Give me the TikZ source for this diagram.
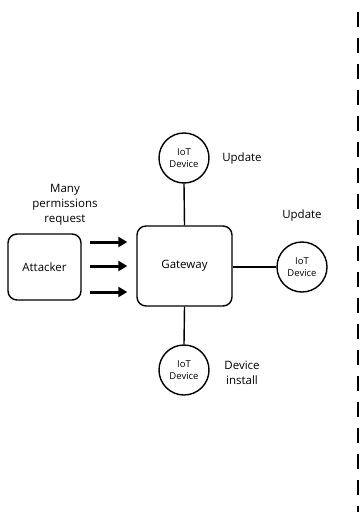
\documentclass[tikz,border=0pt]{standalone}
\usepackage{fontspec}
\setmainfont{Open Sans}
\usetikzlibrary{arrows.meta, positioning}

\begin{document}
\begin{tikzpicture}[x=1pt, y=-1pt,
		box/.style={shape=rectangle, draw, line width=1.4pt, rounded corners=9pt, align=center, font=\fontsize{11.5}{13}\selectfont},
		device/.style={shape=circle, draw, line width=1.4pt, minimum size=50pt, inner sep=0pt, align=center, font=\fontsize{9.5}{11.5}\selectfont},
		link/.style={line width=1.4pt},
		attack/.style={line width=3pt, -{Triangle[length=9pt, width=10pt]}},
		note/.style={align=center, font=\fontsize{11.5}{15}\selectfont}]
			\useasboundingbox (0,0) rectangle (359,514);
			% Boxes and devices:
			\node[box, minimum width=73pt, minimum height=66pt] (attacker) at (44.5, 267){Attacker};
			\node[box, minimum width=95pt, minimum height=80pt] (gateway) at (184.5, 266){Gateway};
			\node[device] (devtop) at (184, 158){IoT\\Device};
			\node[device] (devright) at (302, 267){IoT\\Device};
			\node[device] (devbottom) at (184, 370){IoT\\Device};
			% Labels:
			\node[note] (reqlabel) at (65, 205){Many\\permissions\\request};
			\node[note] (toplabel) at (242, 159){Update};
			\node[note] (rightlabel) at (302, 216){Update};
			\node[note] (bottomlabel) at (242, 373){Device\\install};
			% Wires:
			\draw[link] (gateway.north) -- (devtop.south);
			\draw[link] (gateway.east |- devright.west) -- (devright.west);
			\draw[link] (gateway.south) -- (devbottom.north);
			% Arrows:
			\coordinate (a1) at (90, 242);
			\coordinate (a2) at (90, 266);
			\coordinate (a3) at (90, 292);
			\draw[attack] (a1) -- ([xshift=-9pt]a1 -| gateway.west);
			\draw[attack] (a2) -- ([xshift=-9pt]a2 -| gateway.west);
			\draw[attack] (a3) -- ([xshift=-9pt]a3 -| gateway.west);
			% Separator:
			\coordinate (sepstart) at (357.8, 12);
			\coordinate (sepend) at (357.8, 512);
			\draw[line width=2.6pt, dash pattern=on 15pt off 11pt] (sepstart) -- (sepend);
		\end{tikzpicture}
\end{document}
